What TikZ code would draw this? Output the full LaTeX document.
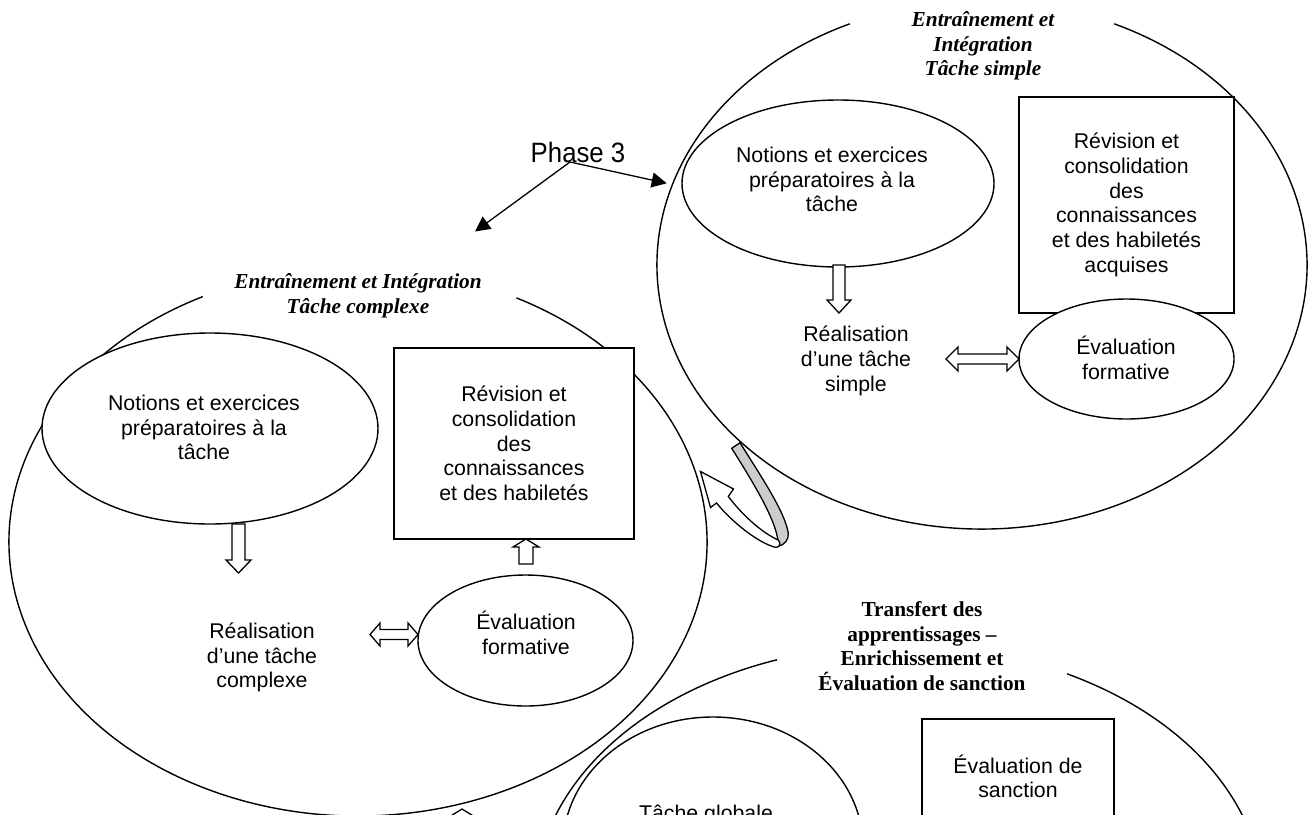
\documentclass[tikz,border=0pt]{standalone}
\usepackage{fontspec}
\setmainfont{Liberation Serif}
\setsansfont{Liberation Sans}
\newfontfamily\phasefont[FakeStretch=0.92]{Liberation Sans}
\usetikzlibrary{shapes.geometric,arrows.meta,calc}
\definecolor{bandgray}{RGB}{204,204,204}
\tikzset{
  bubble/.style={ellipse, draw, fill=white, inner sep=0pt},
  boxnode/.style={rectangle, draw, fill=white, inner sep=0pt, align=center,
    font=\sffamily\fontsize{21.3}{24.7}\selectfont},
  txt/.style={align=center, inner sep=0pt, font=\sffamily\fontsize{21.3}{24.7}\selectfont},
  ttlit/.style={align=center, inner sep=0pt, font=\rmfamily\bfseries\itshape\fontsize{21.3}{24.6}\selectfont},
  ttlbf/.style={align=center, inner sep=0pt, font=\rmfamily\bfseries\fontsize{21.3}{24.6}\selectfont},
  ptr/.style={-{Triangle[length=15pt,width=15pt]}, line width=1.3pt},
  blk/.style={draw, fill=white, line width=1.3pt, line join=miter},
  pics/blockarrow/.style n args={4}{code={%
    \draw[blk] (0,-#2) -- ({#1-#4},-#2) -- ({#1-#4},-#3) -- (#1,0) -- ({#1-#4},#3) -- ({#1-#4},#2) -- (0,#2) -- cycle;
  }},
  pics/dblarrow/.style n args={4}{code={%
    \draw[blk] (0,0) -- (#4,-#3) -- (#4,-#2) -- ({#1-#4},-#2) -- ({#1-#4},-#3) -- (#1,0) -- ({#1-#4},#3) -- ({#1-#4},#2) -- (#4,#2) -- (#4,#3) -- cycle;
  }},
}
\begin{document}
\begin{tikzpicture}[x=1pt,y=-1pt,line width=1.4pt]
\useasboundingbox (0,0) rectangle (1316,814);
\fill[white] (0,0) rectangle (1316,814);
\clip (0,0) rectangle (1316,814);

% big outer ellipses (open at the title)
\draw ([shift={(297:349 and 274)}]358,542) arc[start angle=297, end angle=603.6, x radius=349, y radius=274];
\draw ([shift={(294:325 and 264)}]982,265) arc[start angle=294, end angle=606, x radius=325, y radius=264];
\draw ([shift={(297.5:364 and 255)}]899,900) arc[start angle=297.5, end angle=610.4, x radius=364, y radius=255];

% titles
\node[ttlit] (tA) at (358,296) {Entraînement et Intégration\\Tâche complexe};
\node[ttlit] (tB) at (983,46) {Entraînement et\\Intégration\\Tâche simple};
\node[ttlbf] (tC) at (922,646) {Transfert des\\apprentissages –\\Enrichissement et\\Évaluation de sanction};

% Phase 3
\node[inner sep=0pt, anchor=base, font=\phasefont\fontsize{28}{30}\selectfont] (ph) at (578,162.7) {Phase 3};
\coordinate (p3o) at (570,162);
\coordinate (pA) at (475,231.5);
\coordinate (pB) at (666.7,183.3);
\draw[ptr] (p3o) -- (pA);
\draw[ptr] (p3o) -- (pB);

% ---- group A (complex task)
\node[bubble, minimum width=336, minimum height=191] (A1) at (210,428.5) {};
\node[txt] (A1t) at (204,427.5) {Notions et exercices\\préparatoires à la\\tâche};
\node[boxnode, minimum width=240, minimum height=191] (RA) at (514,443.5) {Révision et\\consolidation\\des\\connaissances\\et des habiletés};
\node[txt] (RealA) at (262,657.5) {Réalisation\\d’une tâche\\complexe};
\node[bubble, minimum width=215, minimum height=131] (EA) at (525.5,640.5) {};
\node[txt] (EAt) at (526,633) {Évaluation\\formative};
\coordinate (aA1) at (238.5,524);
\pic[rotate=-90] at (aA1) {blockarrow={49}{6.5}{12.5}{13}};
\coordinate (aA2) at (526,564);
\pic[rotate=90] at (aA2) {blockarrow={25}{7}{13}{8}};
\coordinate (aA3) at (370,634.5);
\pic at (aA3) {dblarrow={48}{5}{11.5}{10}};

% ---- group B (simple task)
\node[bubble, minimum width=312, minimum height=167] (B1) at (838,183.5) {};
\node[txt] (B1t) at (832,179.5) {Notions et exercices\\préparatoires à la\\tâche};
\node[boxnode, minimum width=215, minimum height=216] (RB) at (1126.5,205) {Révision et\\consolidation\\des\\connaissances\\et des habiletés\\acquises};
\node[bubble, minimum width=215, minimum height=120] (EB) at (1126.5,359) {};
\node[txt] (EBt) at (1126,358) {Évaluation\\formative};
\node[txt] (RealB) at (856,361) {Réalisation\\d’une tâche\\simple};
\coordinate (aB1) at (839,265);
\pic[rotate=-90] at (aB1) {blockarrow={48}{6}{12}{13}};
\coordinate (aB2) at (946,359);
\pic at (aB2) {dblarrow={73}{5}{12}{12}};

% ---- group C (transfer)
\node[bubble, minimum width=300, minimum height=260] (C2) at (713,847) {};
\node[txt, anchor=base] (C2t) at (706,820) {Tâche globale};
\node[boxnode, minimum width=192, minimum height=115] (RC) at (1018,776.5) {Évaluation de\\sanction};
\coordinate (aC1) at (462,836);
\pic[rotate=90] at (aC1) {blockarrow={27}{7}{13}{8}};

% curved ribbon arrow between the groups
\draw[line width=1.3pt, fill=bandgray, line join=round]
  (731.7,448.3) -- (740,442.7)
  .. controls (762,478) and (785,512) .. (788.3,533.3)
  .. controls (789,540) and (784,545) .. (778.3,546.3)
  .. controls (779,526) and (758,490) .. (731.7,448.3) -- cycle;
\draw[line width=1.3pt, fill=white, line join=miter]
  (700.5,471.5) -- (733.5,489) -- (728.3,496.5)
  .. controls (740,512) and (760,532) .. (778.3,540)
  .. controls (781,543) and (780,547) .. (776,547.5)
  .. controls (758,543) and (732,522) .. (716.5,503)
  -- (710.5,507.5) -- cycle;
\end{tikzpicture}
\end{document}
